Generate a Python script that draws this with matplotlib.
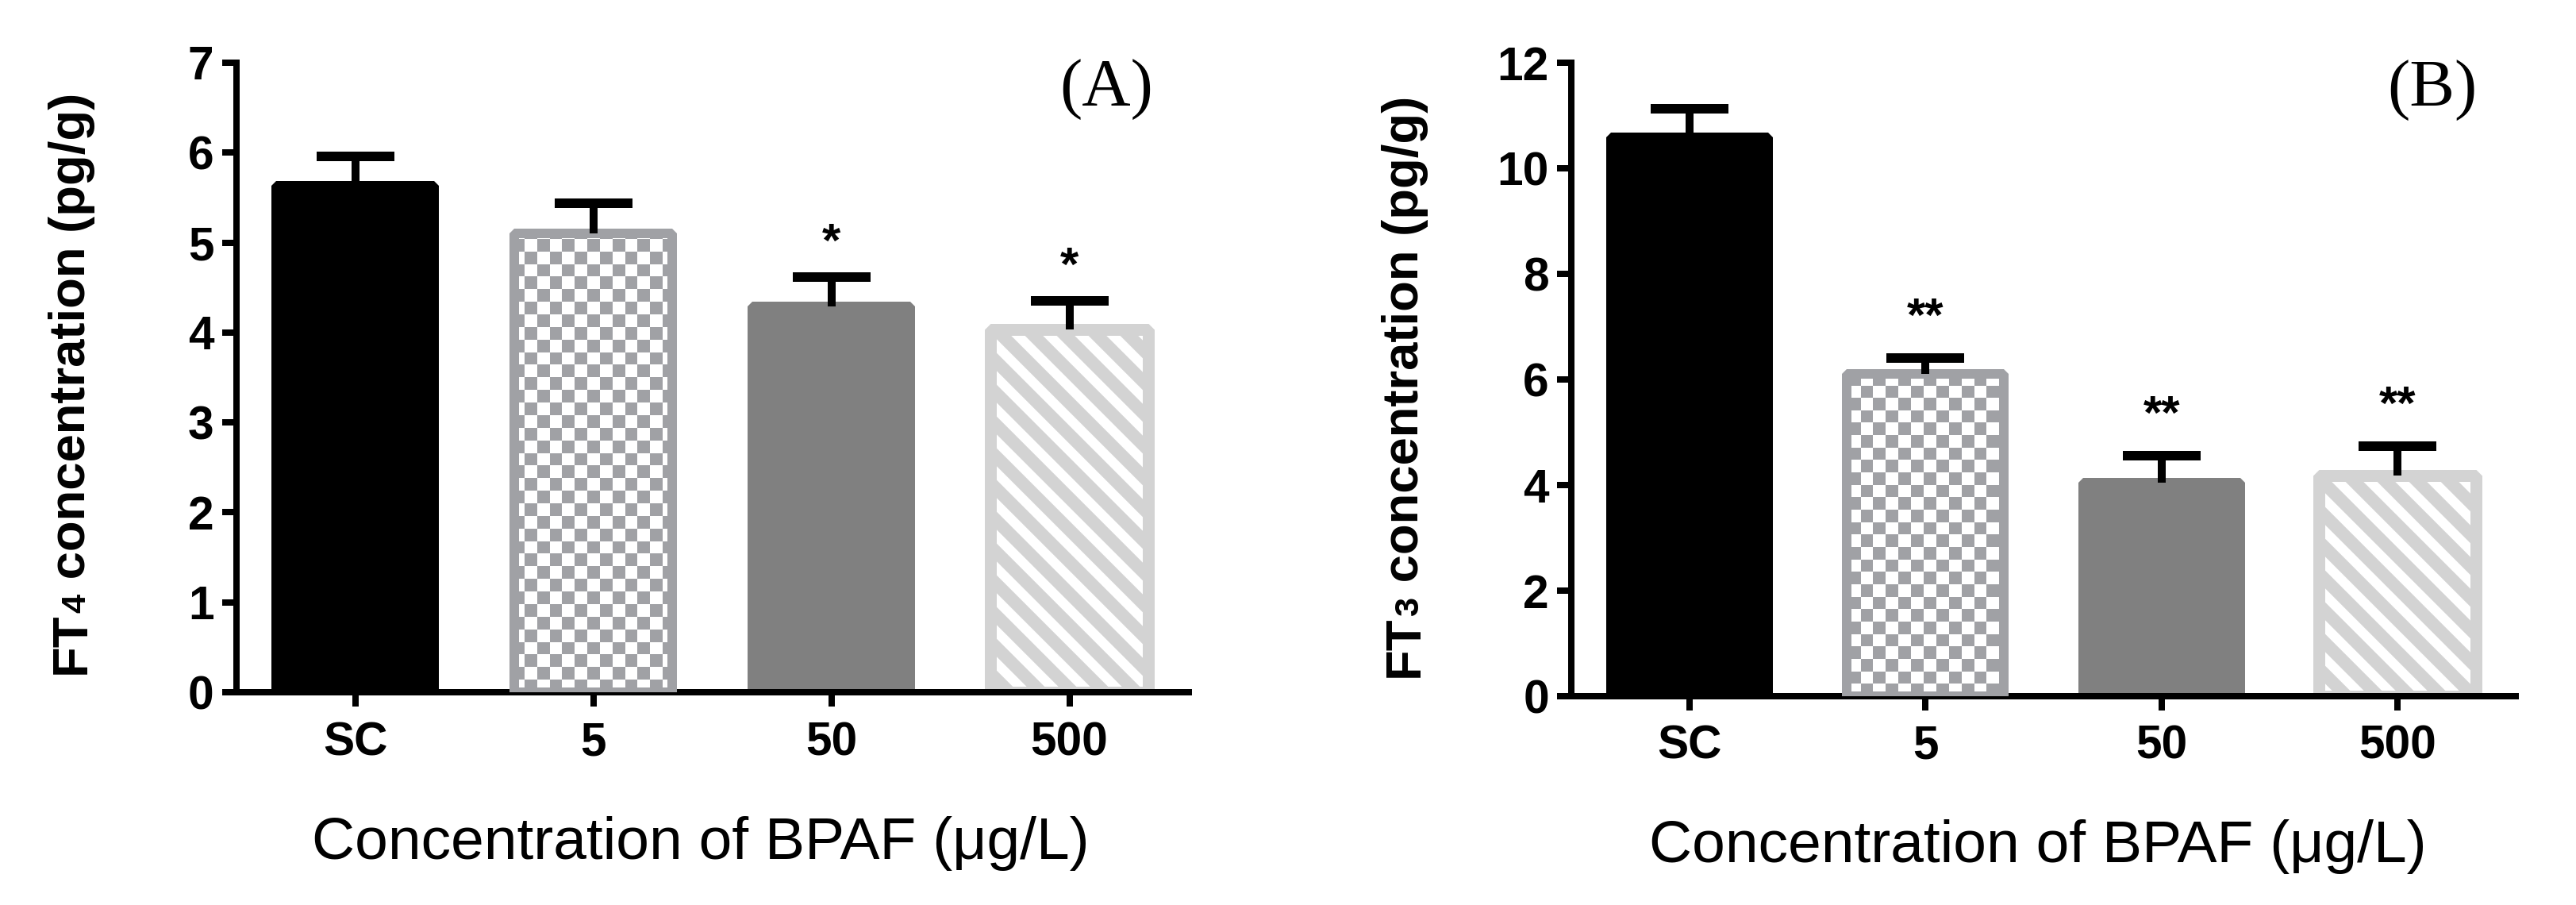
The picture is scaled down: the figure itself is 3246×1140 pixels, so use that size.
import matplotlib
matplotlib.use('Agg')
import matplotlib.pyplot as plt
import numpy as np
from matplotlib.colors import ListedColormap

# values (mean and upper error)
groups = ['SC', '5', '50', '500']
ft4_mean = [5.63, 5.10, 4.29, 4.03]
ft4_err = [0.33, 0.34, 0.33, 0.32]
ft4_marks = ['', '', '*', '*']
ft3_mean = [10.59, 6.10, 4.04, 4.18]
ft3_err = [0.54, 0.30, 0.51, 0.55]
ft3_marks = ['', '**', '**', '**']

W, H, DPI = 3246, 1140, 240
plt.rcParams['font.family'] = ['Liberation Sans', 'DejaVu Sans']
plt.rcParams['hatch.linewidth'] = 4.8

CHECK = '#a0a1a5'
face = ['#000000', 'white', '#808080', 'white']
edge = ['#000000', CHECK, '#808080', '#d3d3d3']
edge_lw = [3.6, 3.6, 3.6, 4.5]
hatch = [None, None, None, '\\\\']


def checker(ax, bar, cell_px, color):
    nx = int(round(ax.bbox.width / cell_px))
    ny = int(round(ax.bbox.height / cell_px))
    grid = np.indices((ny, nx)).sum(axis=0) % 2
    x0, x1 = ax.get_xlim()
    y0, y1 = ax.get_ylim()
    im = ax.imshow(grid, cmap=ListedColormap(['white', color]),
                   extent=(x0, x1, y0, y1), origin='lower',
                   interpolation='nearest', aspect='auto', zorder=2)
    im.set_clip_path(bar)
    bar.set_facecolor('none')
    bar.set_zorder(3)
    ax.set_xlim(x0, x1)
    ax.set_ylim(y0, y1)


def ylabel(fig, ax, x, y, sub):
    kw = dict(rotation=90, rotation_mode='anchor', ha='left', va='baseline',
              fontweight='bold')
    t1 = fig.text(x, y, 'FT', fontsize=19, **kw)
    t2 = ax.annotate(sub, xy=(x, 1), xycoords=('figure fraction', t1),
                     fontsize=13, annotation_clip=False, **kw)
    ax.annotate(' concentration (pg/g)', xy=(x, 1),
                xycoords=('figure fraction', t2), fontsize=19,
                annotation_clip=False, **kw)


def panel(fig, rect, means, errs, marks, ymax, ystep, star_off, sub, tag,
          tag_xy, lab_xy, ylab_xy):
    ax = fig.add_axes(rect)
    x = np.arange(len(groups))
    bars = ax.bar(x, means, width=0.665, color=face, edgecolor=edge,
                  linewidth=edge_lw, zorder=2)
    for b, h in zip(bars, hatch):
        b.set_joinstyle('bevel')
        if h:
            b.set_hatch(h)
    ax.set_xlim(-0.5, len(groups) - 0.5)
    ax.set_ylim(0, ymax)
    checker(ax, bars[1], 15.8, CHECK)

    # upper error only, no cap at the bar top
    eb = ax.errorbar(x, means, yerr=[np.zeros(len(errs)), errs], fmt='none',
                     ecolor='black', elinewidth=3.0, capsize=14.7,
                     capthick=3.6, zorder=5)
    eb[1][0].set_visible(False)
    for i, (m, e, s) in enumerate(zip(means, errs, marks)):
        if s:
            ax.annotate(s, xy=(i, m + e), xytext=(0, star_off),
                        textcoords='offset points', ha='center', va='center',
                        fontsize=18, fontweight='bold')

    ax.set_xticks(x)
    ax.set_xticklabels(groups)
    ax.set_yticks(np.arange(0, ymax + 0.01, ystep))
    ax.tick_params(width=2.4, length=5.4, labelsize=17.6, color='black')
    ax.tick_params(axis='y', pad=3)
    ax.tick_params(axis='x', pad=5.4)
    for lbl in ax.get_xticklabels() + ax.get_yticklabels():
        lbl.set_fontweight('bold')
    for s in ['top', 'right']:
        ax.spines[s].set_visible(False)
    for s in ['left', 'bottom']:
        ax.spines[s].set_linewidth(2.4)
        ax.spines[s].set_capstyle('projecting')

    ax.text(tag_xy[0], tag_xy[1], tag, transform=ax.transAxes, ha='right',
            va='baseline', fontsize=25.5, family='Liberation Serif')
    ax.text(lab_xy[0], lab_xy[1], 'Concentration of BPAF (μg/L)',
            transform=ax.transAxes, ha='center', va='baseline', fontsize=22.5)
    ylabel(fig, ax, ylab_xy[0], ylab_xy[1], sub)
    return ax


fig = plt.figure(figsize=(W / DPI, H / DPI), dpi=DPI)

panel(fig, [297.5 / W, (H - 872) / H, 1200 / W, 793 / H],
      ft4_mean, ft4_err, ft4_marks, 7, 1, 12.5, '4', '(A)',
      (0.963, 0.932), (0.488, -0.2648), (107 / W, (H - 849) / H))
panel(fig, [1980 / W, (H - 877) / H, 1190 / W, 798 / H],
      ft3_mean, ft3_err, ft3_marks, 12, 2, 15, '3', '(B)',
      (0.959, 0.9306), (0.494, -0.262), (1787 / W, (H - 853) / H))

fig.savefig('out.png', dpi=DPI, facecolor='white')
